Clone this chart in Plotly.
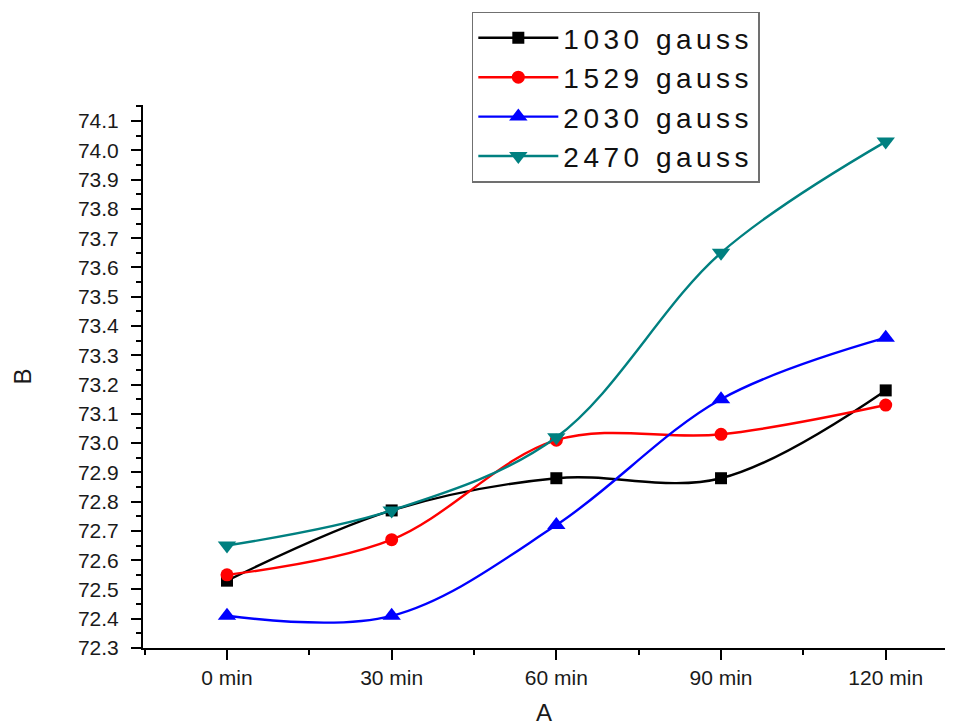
import plotly.graph_objects as go

# Sampling times (x categories)
times = ["0 min", "30 min", "60 min", "90 min", "120 min"]

# Measured B values per magnetic field strength
b_1030 = [72.53, 72.77, 72.88, 72.88, 73.18]
b_1529 = [72.55, 72.67, 73.01, 73.03, 73.13]
b_2030 = [72.41, 72.41, 72.72, 73.15, 73.36]
b_2470 = [72.65, 72.77, 73.02, 73.65, 74.03]

series = [
    ("1030 gauss", b_1030, "#000000", "square", 12),
    ("1529 gauss", b_1529, "#ff0000", "circle", 13),
    ("2030 gauss", b_2030, "#0000ff", "triangle-up", 16),
    ("2470 gauss", b_2470, "#008080", "triangle-down", 16),
]

x_pos = list(range(len(times)))

fig = go.Figure()
for name, vals, color, symbol, size in series:
    fig.add_trace(go.Scatter(
        x=x_pos, y=vals,
        name=f'<span style="letter-spacing:4.5px">{name}</span>',
        mode="lines+markers",
        line=dict(color=color, width=2.4, shape="spline", smoothing=1.0),
        marker=dict(symbol=symbol, size=size, color=color, line=dict(width=0)),
    ))

y_ticks = [round(72.3 + 0.1 * i, 1) for i in range(19)]

fig.update_layout(
    width=958, height=726,
    margin=dict(l=143, r=13, t=105, b=78),
    plot_bgcolor="white", paper_bgcolor="white",
    font=dict(family="Liberation Sans, Arial, sans-serif", color="#1a1a1a"),
    showlegend=True,
    legend=dict(
        x=0.41, y=1.172, xanchor="left", yanchor="top",
        bordercolor="#707070", borderwidth=1.5, bgcolor="white",
        font=dict(size=28, color="#111111"),
        itemwidth=80, tracegroupgap=0,
    ),
    xaxis=dict(
        range=[-0.51, 4.36], tickmode="array", tickvals=x_pos, ticktext=times,
        showgrid=False, zeroline=False, automargin=False,
        showline=True, linecolor="black", linewidth=2,
        ticks="outside", ticklen=10, tickwidth=2, tickcolor="black",
        tickfont=dict(size=21),
        ticklabelstandoff=0,
        minor=dict(dtick=0.5, tick0=0.5, ticks="outside", ticklen=5, tickwidth=2,
                   tickcolor="black"),
        title=dict(text="A", font=dict(size=24), standoff=20),
    ),
    yaxis=dict(
        range=[72.3, 74.155], tickmode="array", tickvals=y_ticks,
        ticktext=[f"{v:.1f}" for v in y_ticks],
        showgrid=False, zeroline=False, automargin=False,
        showline=True, linecolor="black", linewidth=2,
        ticks="outside", ticklen=10, tickwidth=2, tickcolor="black",
        tickfont=dict(size=21),
        ticklabelstandoff=8,
        minor=dict(dtick=0.05, tick0=72.3, ticks="outside", ticklen=5, tickwidth=2,
                   tickcolor="black"),
        title=dict(text="B", font=dict(size=24), standoff=40),
    ),
)

fig.write_html("out.html")
